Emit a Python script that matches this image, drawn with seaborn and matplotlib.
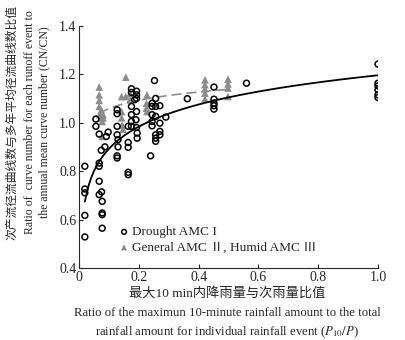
import numpy as np
import pandas as pd
import seaborn as sns
import matplotlib.pyplot as plt

# Drought AMC I (open circles)
dry_x = [0.019, 0.019, 0.019, 0.019, 0.019, 0.056, 0.056, 0.067, 0.067, 0.067,
         0.067, 0.067, 0.075, 0.077, 0.077, 0.077, 0.077, 0.074, 0.086, 0.091,
         0.097, 0.127, 0.127, 0.127, 0.127, 0.130, 0.130, 0.127, 0.127, 0.164,
         0.164, 0.164, 0.164, 0.164, 0.175, 0.175, 0.175, 0.175, 0.175, 0.175,
         0.186, 0.192, 0.192, 0.192, 0.192, 0.190, 0.192, 0.194, 0.194, 0.239,
         0.244, 0.244, 0.244, 0.244, 0.244, 0.252, 0.256, 0.256, 0.256, 0.256,
         0.256, 0.256, 0.270, 0.270, 0.270, 0.270, 0.290, 0.362, 0.451, 0.451,
         0.451, 0.451, 0.451, 0.560, 1.0, 1.0, 1.0, 1.0, 1.0, 1.0]
dry_y = [0.820, 0.726, 0.710, 0.617, 0.528, 1.015, 0.985, 0.953, 0.833, 0.820,
         0.758, 0.703, 0.714, 0.675, 0.627, 0.620, 0.564, 0.886, 0.900, 0.943,
         0.961, 1.053, 1.037, 0.985, 0.950, 0.930, 0.900, 0.863, 0.854, 0.918,
         0.898, 0.795, 0.785, 0.985, 1.140, 1.125, 1.067, 1.033, 1.005, 0.985,
         1.095, 1.130, 1.115, 1.100, 1.046, 1.012, 0.980, 0.957, 0.936, 0.863,
         1.080, 1.067, 1.033, 1.005, 0.987, 1.174, 1.100, 1.067, 1.026, 0.950,
         0.936, 0.923, 1.070, 0.998, 0.964, 0.950, 1.023, 1.099, 1.147, 1.097,
         1.081, 1.070, 1.056, 1.163, 1.242, 1.163, 1.152, 1.136, 1.115, 1.104]

# General AMC II, Humid AMC III (grey triangles)
wet_x = [0.067, 0.067, 0.067, 0.067, 0.069, 0.071, 0.074, 0.077, 0.077, 0.080,
         0.080, 0.142, 0.142, 0.142, 0.144, 0.147, 0.156, 0.156, 0.170, 0.170,
         0.227, 0.225, 0.225, 0.227, 0.421, 0.421, 0.421, 0.421, 0.421, 0.498,
         0.498, 0.498, 0.498]
wet_y = [1.147, 1.115, 1.092, 1.067, 1.033, 1.019, 1.053, 1.005, 0.943, 1.033,
         1.020, 1.108, 1.046, 1.020, 0.990, 0.973, 1.188, 1.108, 1.095, 1.120,
         1.115, 1.080, 1.060, 1.046, 1.177, 1.157, 1.140, 1.122, 1.098, 1.180,
         1.160, 1.143, 1.108]

dry = pd.DataFrame({"ratio": dry_x, "cn": dry_y})
wet = pd.DataFrame({"ratio": wet_x, "cn": wet_y})

sns.set_style("ticks")
plt.rcParams["font.family"] = ["Liberation Serif", "Noto Sans CJK SC", "DejaVu Sans"]
plt.rcParams["mathtext.fontset"] = "stix"

fig = plt.figure(figsize=(4.06, 3.40), dpi=100)
ax = fig.add_axes([0.195, 0.212, 0.736, 0.712])

sns.scatterplot(data=wet, x="ratio", y="cn", marker="^", s=30, color="#8c8c8c",
                edgecolor="none", label="General AMC Ⅱ, Humid AMC Ⅲ", ax=ax, zorder=2)
sns.regplot(data=wet, x="ratio", y="cn", logx=True, scatter=False, ci=None, ax=ax,
            line_kws=dict(color="#8c8c8c", lw=1.2, ls=(0, (6, 3)), zorder=3))
sns.scatterplot(data=dry, x="ratio", y="cn", marker="o", s=18, facecolor="none",
                edgecolor="black", linewidth=1.1, label="Drought AMC I", ax=ax, zorder=4)
sns.regplot(data=dry, x="ratio", y="cn", logx=True, scatter=False, ci=None, ax=ax,
            line_kws=dict(color="black", lw=1.3, zorder=5))

ax.set_xlim(0, 1.0)
ax.set_ylim(0.4, 1.4)
ax.set_xticks([0, 0.2, 0.4, 0.6, 0.8, 1.0])
ax.set_xticklabels(["0", "0.2", "0.4", "0.6", "0.8", "1.0"])
ax.set_yticks([0.4, 0.6, 0.8, 1.0, 1.2, 1.4])
ax.set_yticklabels(["0.4", "0.6", "0.8", "1.0", "1.2", "1.4"])
ax.tick_params(direction="in", length=3, width=0.8, labelsize=10, pad=2)
ax.set_xlabel("")
ax.set_ylabel("")
sns.despine(ax=ax)
for sp in ax.spines.values():
    sp.set_linewidth(0.8)

h, l = ax.get_legend_handles_labels()
ax.legend(h[::-1], l[::-1], loc="lower left", bbox_to_anchor=(0.095, 0.02),
          frameon=False, fontsize=9.5, handletextpad=0.05, labelspacing=0.25,
          handlelength=1.1, borderaxespad=0.3, markerscale=0.8)

fig.text(0.56, 0.138, "最大10 min内降雨量与次雨量比值", ha="center", va="center", fontsize=9.5)
fig.text(0.56, 0.079, "Ratio of the maximun 10-minute rainfall amount to the total",
         ha="center", va="center", fontsize=9.2)
fig.text(0.56, 0.024, "rainfall amount for individual rainfall event ($P_{10}/P$)",
         ha="center", va="center", fontsize=9.2)

fig.text(0.03, 0.64, "次产流径流曲线数与多年平均径流曲线数比值", rotation=90,
         ha="center", va="center", fontsize=8.5)
fig.text(0.074, 0.64, "Ratio of  curve number for each runoff event to", rotation=90,
         ha="center", va="center", fontsize=8.5)
fig.text(0.11, 0.64, "the annual mean curve number (CN/CN)", rotation=90,
         ha="center", va="center", fontsize=8.5)

fig.savefig("out.png", dpi=100)
